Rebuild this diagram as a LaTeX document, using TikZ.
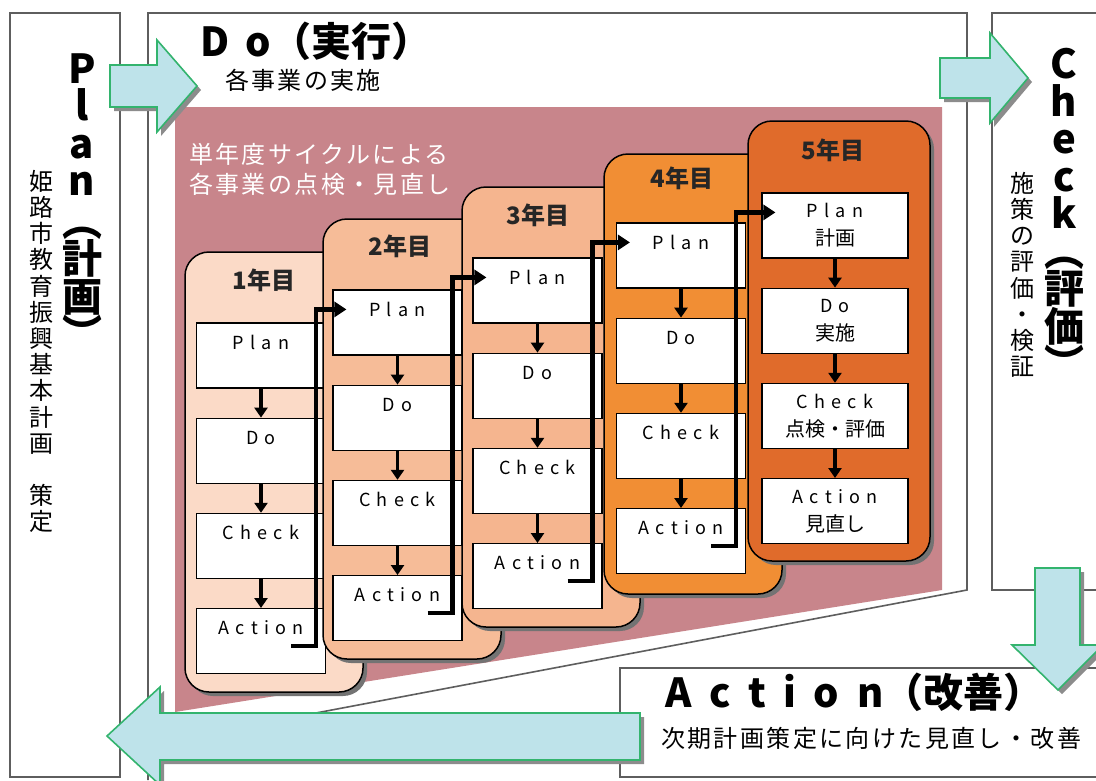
\documentclass[tikz,border=0pt]{standalone}
\usepackage{fontspec}
\setmainfont{Noto Sans CJK JP}
\newfontfamily\stepfont[LetterSpace=35]{Noto Sans CJK JP}
\usetikzlibrary{arrows.meta,positioning,shadows}
\setlength{\lineskiplimit}{-100pt}

\definecolor{framegray}{HTML}{5E5E5E}
\definecolor{rosebg}{HTML}{C8858B}
\definecolor{yearA}{HTML}{FBDAC7}
\definecolor{yearB}{HTML}{F6BC98}
\definecolor{yearC}{HTML}{F5B58F}
\definecolor{yearD}{HTML}{F18E34}
\definecolor{yearE}{HTML}{E06B2B}
\definecolor{arrowcyan}{HTML}{BEE3EA}
\definecolor{arrowgreen}{HTML}{33B46E}

\begin{document}
\begin{tikzpicture}[x=1pt, y=-1pt,
    boxline/.style = {draw=framegray, line width=1.6pt},
    bigarrow/.style = {fill=arrowcyan, draw=arrowgreen, line width=1.6pt, drop shadow={shadow xshift=4pt, shadow yshift=-4pt, fill=black!45, opacity=1}},
    panel/.style = {draw, line width=1.5pt, rounded corners=24pt, minimum width=178pt, minimum height=440pt, drop shadow={shadow xshift=4pt, shadow yshift=-4pt, fill=black!55, opacity=1}},
    yearlabel/.style = {font=\bfseries\fontsize{24}{24}\selectfont, text=black!85},
    stepbox/.style = {draw, fill=white, line width=1.2pt, minimum width=129pt, minimum height=65pt, inner sep=0pt, font=\stepfont\fontsize{18}{18}\selectfont},
    onestep/.style = {stepbox, text height=26pt, text depth=39pt},
    twostep/.style = {stepbox, minimum width=146pt, align=center, font=\fontsize{20}{28}\selectfont},
    down/.style = {-{Triangle[width=13pt,length=10pt]}, line width=3.5pt},
    jump/.style = {-{Triangle[width=15pt,length=12pt]}, line width=4.5pt},
    vtitle/.style = {align=center, inner sep=0pt, font=\bfseries\fontsize{40}{37.5}\selectfont},
    vnote/.style = {align=center, inner sep=0pt, font=\fontsize{24}{26.2}\selectfont},
    jtext/.style = {inner sep=0pt, font=\fontsize{24}{30}\selectfont\addfontfeature{LetterSpace=10}}]

    \fill[white] (0,0) rectangle (1096,780);
    \useasboundingbox (0,0) rectangle (1096,780);

    % frames
    \draw[boxline] (10,13) rectangle (120,777);
    \draw[boxline] (148,780) -- (148,13) -- (967,13) -- (967,590) -- (300,716);
    \draw[boxline] (1096,13) -- (992,13) -- (992,590) -- (1096,590);
    \draw[boxline] (1096,668) -- (620,668) -- (620,777) -- (1096,777);

    \fill[rosebg] (175,107) -- (942,107) -- (942,590) -- (175,712) -- cycle;

    % year 1
    \node[panel, fill=yearA] (y1) at (274,472) {};
    \node[yearlabel] (t1) at (264,280) {1年目};
    \node[onestep] (p1) at (261,355.5) {Plan};
    \node[onestep, below=29pt of p1] (d1) {Do};
    \node[onestep, below=29pt of d1] (c1) {Check};
    \node[onestep, below=29pt of c1] (a1) {Action};
    \draw[down] (p1) -- (d1);
    \draw[down] (d1) -- (c1);
    \draw[down] (c1) -- (a1);

    % year 2
    \node[panel, fill=yearB] (y2) at (412,439) {};
    \node[yearlabel] (t2) at (400,246) {2年目};
    \node[onestep] (p2) at (397.5,322.5) {Plan};
    \node[onestep, below=29pt of p2] (d2) {Do};
    \node[onestep, below=29pt of d2] (c2) {Check};
    \node[onestep, below=29pt of c2] (a2) {Action};
    \draw[down] (p2) -- (d2);
    \draw[down] (d2) -- (c2);
    \draw[down] (c2) -- (a2);

    % year 3
    \node[panel, fill=yearC] (y3) at (551,407) {};
    \node[yearlabel] (t3) at (538,215) {3年目};
    \node[onestep] (p3) at (537.5,290.5) {Plan};
    \node[onestep, below=29pt of p3] (d3) {Do};
    \node[onestep, below=29pt of d3] (c3) {Check};
    \node[onestep, below=29pt of c3] (a3) {Action};
    \draw[down] (p3) -- (d3);
    \draw[down] (d3) -- (c3);
    \draw[down] (c3) -- (a3);

    % year 4
    \node[panel, fill=yearD] (y4) at (693,374) {};
    \node[yearlabel] (t4) at (682,178) {4年目};
    \node[onestep] (p4) at (681,255.5) {Plan};
    \node[onestep, below=29pt of p4] (d4) {Do};
    \node[onestep, below=29pt of d4] (c4) {Check};
    \node[onestep, below=29pt of c4] (a4) {Action};
    \draw[down] (p4) -- (d4);
    \draw[down] (d4) -- (c4);
    \draw[down] (c4) -- (a4);

    % year 5
    \node[panel, fill=yearE, minimum width=182pt] (y5) at (839,341) {};
    \node[yearlabel] (t5) at (833,150) {5年目};
    \node[twostep] (p5) at (835,225.5) {{\stepfont\fontsize{18}{28}\selectfont Plan}\\計画};
    \node[twostep, below=29pt of p5] (d5) {{\stepfont\fontsize{18}{28}\selectfont Do}\\実施};
    \node[twostep, below=29pt of d5] (c5) {{\stepfont\fontsize{18}{28}\selectfont Check}\\点検・評価};
    \node[twostep, below=29pt of c5] (a5) {{\stepfont\fontsize{18}{28}\selectfont Action}\\見直し};
    \draw[down] (p5) -- (d5);
    \draw[down] (d5) -- (c5);
    \draw[down] (c5) -- (a5);

    \draw[jump] ([xshift=-35pt,yshift=-38pt]a1.north east) -- ++(25,0) |- ([xshift=14pt,yshift=-20pt]p2.north west);
    \draw[jump] ([xshift=-35pt,yshift=-38pt]a2.north east) -- ++(25,0) |- ([xshift=14pt,yshift=-20pt]p3.north west);
    \draw[jump] ([xshift=-35pt,yshift=-38pt]a3.north east) -- ++(25,0) |- ([xshift=14pt,yshift=-20pt]p4.north west);
    \draw[jump] ([xshift=-35pt,yshift=-38pt]a4.north east) -- ++(25,0) |- ([xshift=14pt,yshift=-20pt]p5.north west);

    % cycle arrows
    \path[bigarrow] (110,65) -- (157,65) -- (157,40) -- (197,86) -- (157,132) -- (157,107) -- (110,107) -- cycle;
    \path[bigarrow] (940,58) -- (990,58) -- (990,33) -- (1028,78) -- (990,123) -- (990,98) -- (940,98) -- cycle;
    \path[bigarrow] (1035,568) -- (1080,568) -- (1080,645) -- (1103,645) -- (1058,690) -- (1012,645) -- (1035,645) -- cycle;
    \path[bigarrow] (640,713) -- (160,713) -- (160,687) -- (107,736) -- (160,785) -- (160,760) -- (640,760) -- cycle;

    \node[anchor=base west, font=\bfseries\fontsize{40}{40}\selectfont] (dotitle) at (197,56) {{\addfontfeature{LetterSpace=40}Do}（実行）};
    \node[jtext] (donote) at (303,80) {各事業の実施};
    \node[jtext, anchor=north west, align=left, text=white] (cyclenote) at (189,143) {単年度サイクルによる\\各事業の点検・見直し};

    \node[vtitle, anchor=north] (plantitle) at (82,53) {P\\l\\a\\n\\[3pt]︵\\計\\画\\︶};
    \node[vnote, anchor=north] (plannote) at (42,170) {姫\\路\\市\\教\\育\\振\\興\\基\\本\\計\\画\\　\\策\\定};
    \node[vtitle, anchor=north] (checktitle) at (1064,48) {C\\h\\e\\c\\k\\︵\\評\\価\\︶};
    \node[vnote, anchor=north] (checknote) at (1022,172) {施\\策\\の\\評\\価\\・\\検\\証};

    \node[anchor=base west, font=\bfseries\fontsize{40}{40}\selectfont] (acttitle) at (662,707) {{\addfontfeature{LetterSpace=44}Action}（改善）};
    \node[jtext, anchor=west] (actnote) at (661,738) {次期計画策定に向けた見直し・改善};
\end{tikzpicture}
\end{document}
